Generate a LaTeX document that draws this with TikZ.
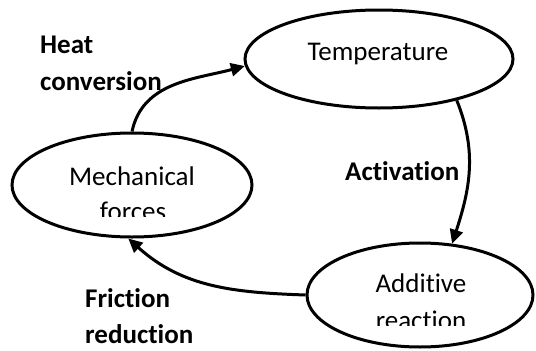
\documentclass[tikz,border=0pt]{standalone}
\usepackage{fontspec}
\setmainfont{Carlito}[Ligatures=NoCommon]
\usetikzlibrary{shapes.geometric,arrows.meta}
\newcommand{\nolig}{\kern0pt\relax}
\begin{document}
\begin{tikzpicture}[x=1pt,y=-1pt,
  bubble/.style={ellipse,draw,line width=3pt,inner sep=0pt,fill=white},
  lbl/.style={font=\fontsize{27}{31}\selectfont\bfseries,inner sep=0pt,anchor=base west},
  txt/.style={font=\fontsize{27}{31}\selectfont,inner sep=0pt,anchor=base},
  conn/.style={line width=3pt,-{Triangle[length=14pt,width=13pt]}}]
\useasboundingbox (0,0) rectangle (536,351);
\node[bubble,minimum width=268pt,minimum height=98pt] (temp) at (379,59) {};
\node[bubble,minimum width=240pt,minimum height=104pt] (mech) at (132,185) {};
\node[bubble,minimum width=226pt,minimum height=104pt] (add) at (420,295) {};
% texts
\node[txt] (ttemp) at (378,60) {Temperature};
\node[txt] (tmech) at (132,185) {Mechanical};
\node[txt] (tadd) at (421,292) {Additive};
\begin{scope}
  \clip (0,0) rectangle (300,216);
  \node[txt] (tforces) at (133,220) {forces};
\end{scope}
\begin{scope}
  \clip (300,0) rectangle (536,325);
  \node[txt] (treact) at (421,329) {reaction};
\end{scope}
% labels
\node[lbl] (lheat) at (40,53) {Heat};
\node[lbl] (lconv) at (40,90) {conversion};
\node[lbl] (lact) at (345,180) {Act\nolig ivation};
\node[lbl] (lfric) at (85,307) {Frict\nolig ion};
\node[lbl] (lred) at (85,343) {reduct\nolig ion};
% connectors
\draw[conn] (mech.north) to[out=78,in=195] (temp.183);
\draw[conn] (temp.332) to[out=-68,in=72] (add.58);
\draw[conn] (add.west) to[out=178,in=-42] (mech.266);
\end{tikzpicture}
\end{document}
